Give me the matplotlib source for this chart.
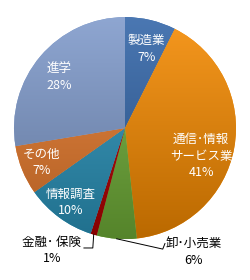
import numpy as np
import matplotlib.pyplot as plt
from matplotlib.colors import to_rgb

plt.rcParams['font.family'] = ['Noto Sans CJK JP', 'DejaVu Sans']

# data
labels = ['製造業', '通信･情報\nサービス業', '卸･小売業', '金融･ 保険', '情報調査', 'その他', '進学']
shares = [7.4, 40.9, 5.8, 0.9, 10.2, 7.2, 27.6]
colors = ['#3265A8', '#F58A00', '#70AE38', '#B00000', '#2A93BA', '#E67A2C', '#7F9ACB']

# label layout: radius (None = outside) and angle tweak in degrees
label_r = [0.74, 0.73, None, None, 0.83, 0.81, 0.75]
label_dang = [-2, -10, 0, 0, 0, 0, 3]
outside_pos = {2: (0.62, -1.12), 3: (-0.66, -1.10)}
leader_pts = {2: [(0.34, -1.09), (0.36, -1.04)], 3: [(-0.29, -1.08), (-0.37, -1.08)]}

fig = plt.figure(figsize=(2.5, 2.8), dpi=100)
ax = fig.add_axes([0.056, 0.146, 0.888, 0.793])
wedges, _ = ax.pie(shares, colors=colors, startangle=90, counterclock=False, radius=1)

# excel-like vertical gradient in each slice
grad = np.linspace(1, 0, 256)[:, None, None]
for w, c in zip(wedges, colors):
    base = np.array(to_rgb(c))
    light = base + (1 - base) * 0.12
    dark = base * 0.76
    img = light * grad + dark * (1 - grad)
    im = ax.imshow(img, extent=[-1, 1, -1, 1], origin='upper', aspect='auto', zorder=w.get_zorder() + 0.1)
    im.set_clip_path(w)

ax.set_xlim(-1, 1)
ax.set_ylim(-1, 1)
ax.set_aspect('equal')
ax.axis('off')

for i, (w, lab, s) in enumerate(zip(wedges, labels, shares)):
    mid = np.deg2rad((w.theta1 + w.theta2) / 2)
    txt = f"{lab}\n{round(s)}%"
    if label_r[i] is not None:
        a = mid + np.deg2rad(label_dang[i])
        ax.text(label_r[i] * np.cos(a), label_r[i] * np.sin(a), txt, color='white', fontsize=9,
                ha='center', va='center', linespacing=1.35, zorder=10)
    else:
        x0, y0 = np.cos(mid), np.sin(mid)
        pts = [(x0, y0)] + leader_pts[i]
        ax.plot([p[0] for p in pts], [p[1] for p in pts], color='black', lw=0.7, zorder=9, clip_on=False)
        tx, ty = outside_pos[i]
        ax.text(tx, ty, txt, color='black', fontsize=9, ha='center', va='center', linespacing=1.35, zorder=10)

fig.savefig('out.png', dpi=100)
